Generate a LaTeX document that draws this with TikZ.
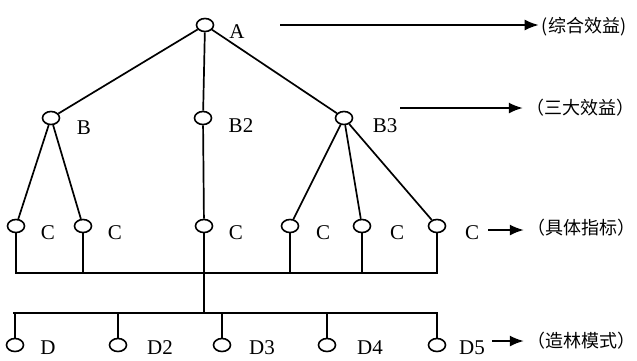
\documentclass[tikz,border=0pt]{standalone}
\usepackage{fontspec}
\setmainfont{Liberation Serif}
\newfontfamily\cjkfont{Noto Sans CJK SC}
\usetikzlibrary{arrows.meta,shapes.geometric}
\tikzset{
  vtx/.style={ellipse, draw, line width=1.6pt, minimum width=17pt, minimum height=13pt, inner sep=0pt},
  lbl/.style={font=\fontsize{21}{23}\selectfont, inner sep=0pt},
  tag/.style={font=\cjkfont\fontsize{18}{21}\selectfont, inner sep=0pt},
  link/.style={line width=1.7pt},
  arrow/.style={-{Latex[length=14pt,width=11pt]}, line width=1.8pt},
}

\begin{document}
\begin{tikzpicture}[x=1pt,y=-1pt]
  \useasboundingbox (0,0) rectangle (637,360);

  % levels
  \node[vtx] (a) at (205,25) {};
  \node[vtx] (b1) at (51,118) {};
  \node[vtx] (b2) at (203,118) {};
  \node[vtx] (b3) at (344,118) {};
  \node[vtx] (c1) at (16,226) {};
  \node[vtx] (c2) at (83,226) {};
  \node[vtx] (c3) at (204,226) {};
  \node[vtx] (c4) at (290,226) {};
  \node[vtx] (c5) at (362,226) {};
  \node[vtx] (c6) at (437,226) {};
  \node[vtx] (d1) at (15,345) {};
  \node[vtx] (d2) at (118,345) {};
  \node[vtx] (d3) at (222,345) {};
  \node[vtx] (d4) at (327,345) {};
  \node[vtx] (d5) at (437,345) {};

  \node[lbl] (la) at (237,32) {A};
  \node[lbl] (lb1) at (84,128) {B};
  \node[lbl] (lb2) at (241,126) {B2};
  \node[lbl] (lb3) at (385,126) {B3};
  \node[lbl] (lc1) at (48,233) {C};
  \node[lbl] (lc2) at (115,233) {C};
  \node[lbl] (lc3) at (236,233) {C};
  \node[lbl] (lc4) at (323,233) {C};
  \node[lbl] (lc5) at (397,233) {C};
  \node[lbl] (lc6) at (472,233) {C};
  \node[lbl] (ld1) at (48,348) {D};
  \node[lbl] (ld2) at (160,348) {D2};
  \node[lbl] (ld3) at (262,348) {D3};
  \node[lbl] (ld4) at (370,348) {D4};
  \node[lbl] (ld5) at (472,348) {D5};

  \draw[link] (a) -- (b1);
  \draw[link] (a) -- (b2);
  \draw[link] (a) -- (b3);
  \draw[link] (b1) -- (c1);
  \draw[link] (b1) -- (c2);
  \draw[link] (b2) -- (c3);
  \draw[link] (b3) -- (c4);
  \draw[link] (b3) -- (c5);
  \draw[link] (b3) -- (c6);

  % buses
  \coordinate (busc) at (13,273);
  \coordinate (busd) at (13,313);
  \draw[link] (c1.south) |- (c6.south |- busc) -- (c6.south);
  \foreach \n in {c2,c3,c4,c5}
    \draw[link] (\n.south) -- (\n.south |- busc);
  \draw[link] (c3.south |- busc) -- (c3.south |- busd);
  \draw[link] (busd) -- (d5.north |- busd) -- (d5.north);
  \foreach \n in {d1,d2,d3,d4}
    \draw[link] (\n.north |- busd) -- (\n.north);

  % level tags
  \node[tag] (t1) at (584,27) {(综合效益)};
  \node[tag] (t2) at (580,108) {（三大效益）};
  \node[tag] (t3) at (581,228) {（具体指标）};
  \node[tag] (t4) at (581,341) {（造林模式）};
  \coordinate (s1) at (280,25);
  \coordinate (s2) at (400,108);
  \coordinate (s3) at (488,230);
  \coordinate (s4) at (492,341);
  \draw[arrow] (s1) -- ([xshift=-3pt]t1.west |- s1);
  \draw[arrow] (s2) -- ([xshift=-3pt]t2.west |- s2);
  \draw[arrow] (s3) -- ([xshift=-3pt]t3.west |- s3);
  \draw[arrow] (s4) -- ([xshift=-3pt]t4.west |- s4);
\end{tikzpicture}
\end{document}
